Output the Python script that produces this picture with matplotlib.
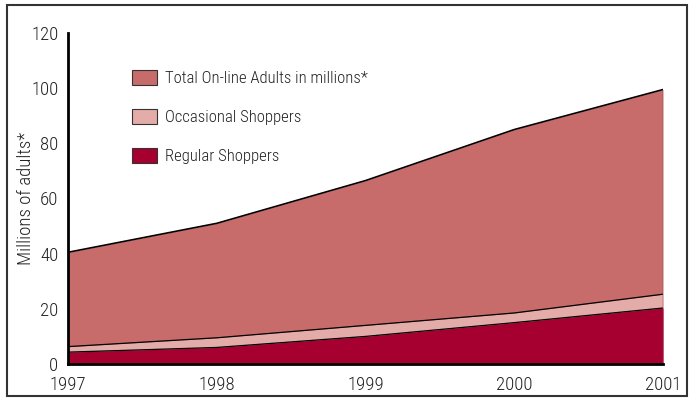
import matplotlib.pyplot as plt
from matplotlib.patches import Patch, Rectangle

plt.rcParams['font.family'] = ['Roboto Condensed', 'DejaVu Sans']
plt.rcParams['font.weight'] = 'light'
plt.rcParams['axes.labelweight'] = 'light'

# Online adults and shoppers, millions
years = [1997, 1998, 1999, 2000, 2001]
total_online = [40.5, 51, 66.5, 85, 99.5]
occasional = [2, 3.5, 4, 3.5, 5]
regular = [4.3, 6, 10, 15, 20.3]

c_total = "#C76C6B"
c_occ = "#E4ACA8"
c_reg = "#A60030"

fig = plt.figure(figsize=(6.91, 3.99), dpi=100)
ax = fig.add_axes([68 / 691, 1 - 364 / 399, 595 / 691, 331 / 399])

shoppers = [r + o for r, o in zip(regular, occasional)]

ax.fill_between(years, 0, total_online, color=c_total, lw=0)
ax.fill_between(years, 0, shoppers, color=c_occ, lw=0)
ax.fill_between(years, 0, regular, color=c_reg, lw=0)
ax.plot(years, total_online, color="black", lw=1.2)
ax.plot(years, shoppers, color="black", lw=0.9)
ax.plot(years, regular, color="black", lw=0.9)
ax.vlines(years[-1], 0, total_online[-1], color="#555555", lw=1)

ax.set_xlim(1997, 2001)
ax.set_ylim(0, 120)
ax.set_xticks(years)
ax.set_yticks(range(0, 121, 20))
ax.tick_params(length=0, labelsize=13.5, pad=7, colors="#222222")
ax.tick_params(axis="x", pad=9)
for s in ["top", "right"]:
    ax.spines[s].set_visible(False)
ax.spines["left"].set_linewidth(2)
ax.spines["bottom"].set_linewidth(2)
ax.set_ylabel("Millions of adults*", fontsize=13.5, color="#222222", fontweight="light")
ax.yaxis.set_label_coords(-0.056, 0.5)

handles = [
    Patch(facecolor=c_total, edgecolor="#333333", lw=0.8, label="Total On-line Adults in millions*"),
    Patch(facecolor=c_occ, edgecolor="#333333", lw=0.8, label="Occasional Shoppers"),
    Patch(facecolor=c_reg, edgecolor="#333333", lw=0.8, label="Regular Shoppers"),
]
leg = ax.legend(handles=handles, loc="upper left", bbox_to_anchor=(0.083, 0.934),
                frameon=False, fontsize=12, handlelength=1.45, handleheight=1.05,
                labelspacing=1.35, handletextpad=0.5)
for t in leg.get_texts():
    t.set_color("#222222")

# outer frame
fig.patches.append(Rectangle((7 / 691, 3 / 399), 680 / 691, 391 / 399,
                             transform=fig.transFigure, fill=False,
                             edgecolor="#333333", lw=1.5))

fig.savefig("out.png", dpi=100)
